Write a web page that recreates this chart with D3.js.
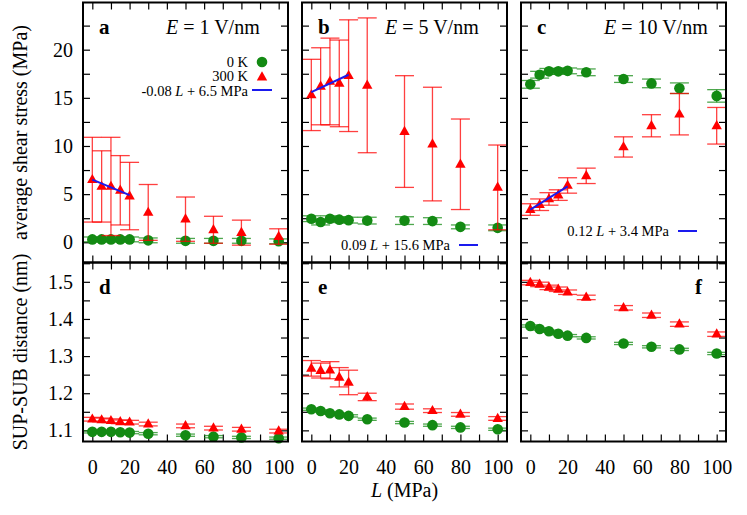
<!DOCTYPE html>
<html>
<head>
<meta charset="utf-8">
<script src="https://cdn.jsdelivr.net/npm/d3@7"></script>
<style>
  html, body { margin: 0; padding: 0; background: #fff; }
  svg text { font-family: "Liberation Serif", Tinos, "Times New Roman", "DejaVu Serif", serif; }
</style>
</head>
<body>
<svg id="chart" width="747" height="515"></svg>
<script>
// ---- data ----
const loads = [0, 5, 10, 15, 20, 30, 50, 65, 80, 100];
const fields = ['1', '5', '10'];
const panelLetters = ['a', 'b', 'c', 'd', 'e', 'f'];

// average shear stress (MPa)
const stress0K_E1 = [0.3, 0.3, 0.3, 0.3, 0.3, 0.2, 0.15, 0.15, 0.15, 0.1];
const stress0K_E1_err = [0.25, 0.25, 0.25, 0.25, 0.25, 0.25, 0.25, 0.25, 0.25, 0.25];
const stress300K_E1 = [6.5, 5.8, 5.8, 5.4, 4.8, 3.1, 2.4, 1.3, 1.0, 0.6];
const stress300K_E1_err = [4.4, 3.7, 5.1, 3.6, 3.5, 2.9, 2.3, 1.4, 1.3, 0.8];

const stress0K_E5 = [2.45, 2.1, 2.45, 2.35, 2.3, 2.25, 2.25, 2.2, 1.6, 1.5];
const stress0K_E5_err = [0.3, 0.3, 0.3, 0.3, 0.3, 0.35, 0.4, 0.35, 0.2, 0.3];
const stress300K_E5 = [15.3, 16.2, 16.7, 16.5, 17.3, 16.3, 11.5, 10.2, 8.1, 5.7];
const stress300K_E5_err = [3.7, 4.0, 4.5, 4.5, 5.8, 7.0, 5.8, 5.9, 4.7, 4.4];

const stress0K_E10 = [16.4, 17.4, 17.75, 17.75, 17.8, 17.65, 16.95, 16.5, 16.0, 15.2];
const stress0K_E10_err = [0.4, 0.35, 0.3, 0.3, 0.3, 0.35, 0.35, 0.45, 0.55, 0.65];
const stress300K_E10 = [3.4, 3.9, 4.5, 4.9, 5.9, 6.9, 9.9, 12.1, 13.3, 12.1];
const stress300K_E10_err = [0.6, 0.6, 0.65, 0.55, 0.8, 0.8, 1.05, 1.15, 2.15, 1.9];

// SUP-SUB distance (nm)
const dist0K_E1 = [1.096, 1.096, 1.096, 1.095, 1.094, 1.091, 1.087, 1.083, 1.081, 1.079];
const dist0K_E1_err = [0.003, 0.003, 0.003, 0.003, 0.003, 0.003, 0.003, 0.003, 0.003, 0.003];
const dist300K_E1 = [1.130, 1.128, 1.126, 1.123, 1.122, 1.117, 1.112, 1.106, 1.103, 1.098];
const dist300K_E1_err = [0.005, 0.005, 0.005, 0.005, 0.005, 0.005, 0.005, 0.005, 0.005, 0.005];

const dist0K_E5 = [1.157, 1.152, 1.146, 1.143, 1.139, 1.130, 1.121, 1.114, 1.108, 1.103];
const dist0K_E5_err = [0.003, 0.003, 0.003, 0.003, 0.003, 0.003, 0.003, 0.003, 0.003, 0.003];
const dist300K_E5 = [1.267, 1.261, 1.262, 1.243, 1.229, 1.190, 1.164, 1.153, 1.143, 1.132];
const dist300K_E5_err = [0.021, 0.02, 0.023, 0.026, 0.033, 0.01, 0.007, 0.005, 0.005, 0.005];

const dist0K_E10 = [1.381, 1.373, 1.367, 1.360, 1.355, 1.349, 1.334, 1.325, 1.318, 1.307];
const dist0K_E10_err = [0.003, 0.003, 0.003, 0.003, 0.003, 0.003, 0.003, 0.003, 0.003, 0.003];
const dist300K_E10 = [1.498, 1.493, 1.485, 1.480, 1.472, 1.458, 1.430, 1.410, 1.386, 1.359];
const dist300K_E10_err = [0.006, 0.006, 0.006, 0.006, 0.006, 0.006, 0.006, 0.006, 0.006, 0.006];

// linear fits of the 300 K stress for L <= 20 MPa
const fitSlope = [-0.08, 0.09, 0.12];
const fitIntercept = [6.5, 15.6, 3.4];
const fitRange = [0, 20];
const fitLabels = ['-0.08', '0.09', '0.12'];
const fitLabelRest = ['+ 6.5 MPa', '+ 15.6 MPa', '+ 3.4 MPa'];

const xTicks = d3.range(0, 101, 10);
const stressTicks = d3.range(0, 24, 2.5);
const distTicks = d3.range(1.10, 1.551, 0.05);

// ---- layout ----
const colLeft = [83, 302, 521];
const colWidth = 205;
const rowTop = [2.5, 262.5];
const rowHeight = [260, 179];

const GREEN = '#138a13';
const RED = '#ff0000';
const BLUE = '#1a1aee';

const svg = d3.select('#chart');

const stressSets = [
  [stress0K_E1, stress0K_E1_err, stress300K_E1, stress300K_E1_err],
  [stress0K_E5, stress0K_E5_err, stress300K_E5, stress300K_E5_err],
  [stress0K_E10, stress0K_E10_err, stress300K_E10, stress300K_E10_err]
];
const distSets = [
  [dist0K_E1, dist0K_E1_err, dist300K_E1, dist300K_E1_err],
  [dist0K_E5, dist0K_E5_err, dist300K_E5, dist300K_E5_err],
  [dist0K_E10, dist0K_E10_err, dist300K_E10, dist300K_E10_err]
];

const triPath = 'M0,-5.8L5.2,3.4L-5.2,3.4Z';

function isMultiple(v, step) {
  return Math.abs(v / step - Math.round(v / step)) < 1e-6;
}

function styleAxis(g) {
  g.select('.domain').remove();
  g.attr('font-family', null).attr('font-size', 20);
  g.selectAll('.tick line').attr('stroke', '#000').attr('stroke-width', 1.2);
  g.selectAll('.tick text').attr('fill', '#000');
}

function drawPanel(row, col) {
  const left = colLeft[col], right = left + colWidth;
  const top = rowTop[row], bottom = top + rowHeight[row];

  const x = d3.scaleLinear().domain([-5, 105]).range([left, right]);
  const y = row === 0
    ? d3.scaleLinear().domain([-2.1, 24.9]).range([bottom, top])
    : d3.scaleLinear().domain([1.07, 1.552]).range([bottom, top]);

  const yTicks = row === 0 ? stressTicks : distTicks;
  const yStep = row === 0 ? 5 : 0.1;
  const yFmt = row === 0 ? d3.format('d') : d3.format('.1f');
  const g = svg.append('g').attr('class', `panel panel-${panelLetters[row * 3 + col]}`);

  // axes with inward ticks on all four sides
  g.append('g').attr('transform', `translate(0,${bottom})`)
    .call(d3.axisBottom(x).tickValues(xTicks).tickSize(-7).tickPadding(18)
      .tickFormat(d => (row === 1 && isMultiple(d, 20)) ? d : ''))
    .call(styleAxis);
  g.append('g').attr('transform', `translate(0,${top})`)
    .call(d3.axisTop(x).tickValues(xTicks).tickSize(-7).tickFormat(''))
    .call(styleAxis);
  g.append('g').attr('transform', `translate(${left},0)`)
    .call(d3.axisLeft(y).tickValues(yTicks).tickSize(-7).tickPadding(10)
      .tickFormat(d => (col === 0 && isMultiple(d, yStep)) ? yFmt(d) : ''))
    .call(styleAxis);
  g.append('g').attr('transform', `translate(${right},0)`)
    .call(d3.axisRight(y).tickValues(yTicks).tickSize(-7).tickFormat(''))
    .call(styleAxis);

  const sets = row === 0 ? stressSets[col] : distSets[col];
  const series = [
    { vals: sets[0], errs: sets[1], color: GREEN, shape: 'circle' },
    { vals: sets[2], errs: sets[3], color: RED, shape: 'triangle' }
  ];

  series.forEach(s => {
    const pts = loads.map((L, i) => ({ L, v: s.vals[i], e: s.errs[i] }));
    const eb = g.append('g').attr('class', 'errorbars')
      .attr('stroke', s.color).attr('stroke-opacity', 0.75).attr('stroke-width', 1.3);
    eb.selectAll('line.v').data(pts).join('line').attr('class', 'v')
      .attr('x1', d => x(d.L)).attr('x2', d => x(d.L))
      .attr('y1', d => y(d.v - d.e)).attr('y2', d => y(d.v + d.e));
    eb.selectAll('line.lo').data(pts).join('line').attr('class', 'lo')
      .attr('x1', d => x(d.L) - 9.5).attr('x2', d => x(d.L) + 9.5)
      .attr('y1', d => y(d.v - d.e)).attr('y2', d => y(d.v - d.e));
    eb.selectAll('line.hi').data(pts).join('line').attr('class', 'hi')
      .attr('x1', d => x(d.L) - 9.5).attr('x2', d => x(d.L) + 9.5)
      .attr('y1', d => y(d.v + d.e)).attr('y2', d => y(d.v + d.e));

    if (s.shape === 'circle') {
      g.append('g').selectAll('circle').data(pts).join('circle')
        .attr('cx', d => x(d.L)).attr('cy', d => y(d.v)).attr('r', 5.3)
        .attr('fill', s.color);
    } else {
      g.append('g').selectAll('path').data(pts).join('path')
        .attr('d', triPath)
        .attr('transform', d => `translate(${x(d.L)},${y(d.v)})`)
        .attr('fill', s.color);
    }
  });

  // fit line
  if (row === 0) {
    g.append('line')
      .attr('x1', x(fitRange[0])).attr('x2', x(fitRange[1]))
      .attr('y1', y(fitSlope[col] * fitRange[0] + fitIntercept[col]))
      .attr('y2', y(fitSlope[col] * fitRange[1] + fitIntercept[col]))
      .attr('stroke', BLUE).attr('stroke-width', 2);
  }

  // frame
  g.append('rect')
    .attr('x', left).attr('y', top).attr('width', colWidth).attr('height', rowHeight[row])
    .attr('fill', 'none').attr('stroke', '#000').attr('stroke-width', 2);

  // panel letter
  const letterX = (row === 1 && col === 2) ? left + 174 : left + 16;
  g.append('text')
    .attr('x', letterX).attr('y', top + 31)
    .attr('font-size', 21).attr('font-weight', 'bold')
    .text(panelLetters[row * 3 + col]);

  if (row === 0) {
    // field label
    const t = g.append('text')
      .attr('x', left + 83).attr('y', top + 31)
      .attr('font-size', 20);
    t.append('tspan').attr('font-style', 'italic').text('E');
    t.append('tspan').text(` = ${fields[col]} V/nm`);

    // legend
    const leg = g.append('g').attr('font-size', 14.5);
    const fitText = (tx, ty) => {
      const ft = leg.append('text').attr('x', tx).attr('y', ty).attr('text-anchor', 'end');
      ft.append('tspan').text(fitLabels[col] + ' ');
      ft.append('tspan').attr('font-style', 'italic').text('L');
      ft.append('tspan').text(' ' + fitLabelRest[col]);
    };
    if (col === 0) {
      leg.append('text').attr('x', left + 165).attr('y', 66.5).attr('text-anchor', 'end').text('0 K');
      leg.append('text').attr('x', left + 165).attr('y', 81).attr('text-anchor', 'end').text('300 K');
      fitText(left + 165, 95.5);
      leg.append('circle').attr('cx', left + 179).attr('cy', 62).attr('r', 5.3).attr('fill', GREEN);
      leg.append('path').attr('d', triPath).attr('transform', `translate(${left + 179},${77})`).attr('fill', RED);
      leg.append('line').attr('x1', left + 169).attr('x2', left + 189).attr('y1', 90).attr('y2', 90)
        .attr('stroke', BLUE).attr('stroke-width', 2);
    } else {
      const ly = col === 1 ? 245 : 231;
      fitText(left + 148, ly + 5);
      leg.append('line').attr('x1', left + 157).attr('x2', left + 176).attr('y1', ly).attr('y2', ly)
        .attr('stroke', BLUE).attr('stroke-width', 2);
    }
  }
}

for (let r = 0; r < 2; r++) {
  for (let c = 0; c < 3; c++) drawPanel(r, c);
}

// axis titles
svg.append('text')
  .attr('transform', `translate(27,${rowTop[0] + rowHeight[0] / 2}) rotate(-90)`)
  .attr('text-anchor', 'middle').attr('font-size', 20)
  .text('average shear stress (MPa)');
svg.append('text')
  .attr('transform', `translate(27,${rowTop[1] + rowHeight[1] / 2}) rotate(-90)`)
  .attr('text-anchor', 'middle').attr('font-size', 20)
  .text('SUP-SUB distance (nm)');

const xt = svg.append('text')
  .attr('x', colLeft[1] + colWidth / 2).attr('y', 497)
  .attr('text-anchor', 'middle').attr('font-size', 20);
xt.append('tspan').attr('font-style', 'italic').text('L');
xt.append('tspan').text(' (MPa)');
</script>
</body>
</html>
